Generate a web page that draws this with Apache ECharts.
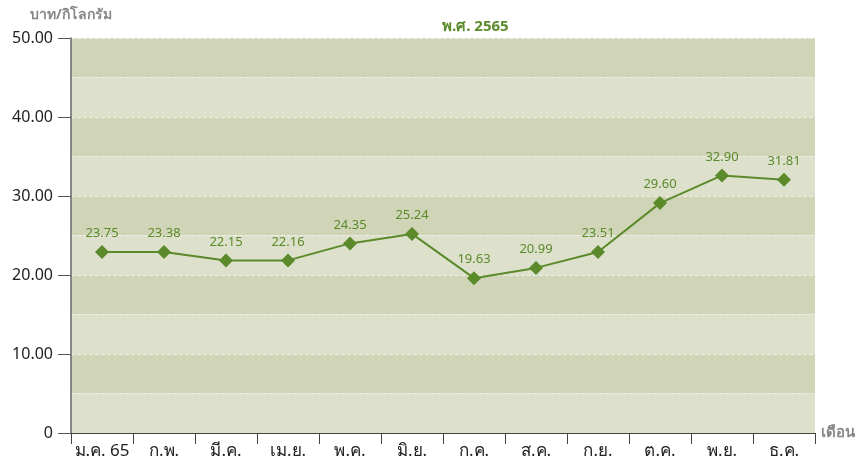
<!DOCTYPE html>
<html>
<head>
<meta charset="utf-8">
<title>ราคา บาท/กิโลกรัม พ.ศ. 2565</title>
<script src="https://cdn.jsdelivr.net/npm/echarts@6/dist/echarts.min.js"></script>
<style>
  html, body { margin: 0; padding: 0; background: #fff; }
  #chart { width: 866px; height: 460px; }
</style>
</head>
<body>
<div id="chart"></div>
<script>
// เดือน
var months = ['ม.ค. 65', 'ก.พ.', 'มี.ค.', 'เม.ย.', 'พ.ค.', 'มิ.ย.', 'ก.ค.', 'ส.ค.', 'ก.ย.', 'ต.ค.', 'พ.ย.', 'ธ.ค.']
// ตำแหน่งที่จุดถูกวาดในภาพ (บาท/กิโลกรัม)
var price = [22.9, 22.9, 21.85, 21.85, 24.0, 25.2, 19.6, 20.9, 22.9, 29.1, 32.6, 32.05]
// ตัวเลขที่แสดงเหนือจุด
var priceLabel = ['23.75', '23.38', '22.15', '22.16', '24.35', '25.24', '19.63', '20.99', '23.51', '29.60', '32.90', '31.81']
var yTicks = [0, 10, 20, 30, 40, 50]

var FONT = 'Tahoma, "Noto Sans", "DejaVu Sans", sans-serif'
var green = '#5b8a2b'

var chart = echarts.init(document.getElementById('chart'))

var option = {
  animation: false,
  textStyle: { fontFamily: FONT },
  title: {
    text: 'พ.ศ. 2565',
    left: 437,
    top: 14,
    textStyle: { color: green, fontSize: 15, fontWeight: 'bold', fontFamily: FONT }
  },
  grid: {
    left: 71,
    right: 51,
    top: 38,
    bottom: 24
  },
  xAxis: {
    type: 'category',
    data: months,
    boundaryGap: true,
    name: 'เดือน',
    nameLocation: 'end',
    nameGap: 6,
    nameTextStyle: { color: '#888', fontSize: 15, fontWeight: 'bold', verticalAlign: 'middle' },
    axisLine: { lineStyle: { color: '#444', width: 1 } },
    axisTick: { show: true, interval: 0, length: 11, lineStyle: { color: '#444' } },
    axisLabel: { interval: 0, color: '#222', fontSize: 17, margin: 10 },
    splitLine: { show: false }
  },
  yAxis: [
    {
      // แถบสีสลับทุก 5
      type: 'value',
      min: 0,
      max: 50,
      interval: 5,
      axisLine: { show: false },
      axisTick: { show: false },
      axisLabel: { show: false },
      splitLine: { show: true, lineStyle: { color: '#eeeee6', type: 'dashed', width: 1 } },
      splitArea: { show: true, areaStyle: { color: ['#dde0cb', '#d0d5b8'] } }
    },
    {
      type: 'value',
      position: 'left',
      min: yTicks[0],
      max: yTicks[yTicks.length - 1],
      interval: 10,
      name: 'บาท/กิโลกรัม',
      nameLocation: 'end',
      nameGap: 16,
      nameTextStyle: { color: '#888', fontSize: 14, fontWeight: 'bold', align: 'center' },
      axisLine: { show: true, lineStyle: { color: '#666', width: 1.5 } },
      axisTick: { show: true, length: 13, lineStyle: { color: '#555' } },
      axisLabel: {
        color: '#222',
        fontSize: 16,
        margin: 18,
        formatter: function (v) { return v === 0 ? '0' : v.toFixed(2) }
      },
      splitLine: { show: false },
      splitArea: { show: false }
    }
  ],
  series: [
    {
      type: 'line',
      yAxisIndex: 0,
      data: price,
      symbol: 'diamond',
      symbolSize: 14,
      lineStyle: { color: green, width: 2 },
      itemStyle: { color: green },
      label: {
        show: true,
        position: 'top',
        distance: 5,
        color: green,
        fontSize: 13,
        formatter: function (p) { return priceLabel[p.dataIndex] }
      }
    }
  ]
}

chart.setOption(option)
</script>
</body>
</html>
